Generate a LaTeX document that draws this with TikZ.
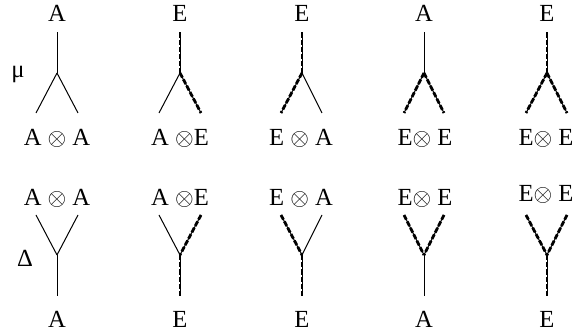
\documentclass[tikz,border=0pt]{standalone}
\usepackage{fontspec}
\setmainfont{Liberation Serif}

\begin{document}
\begin{tikzpicture}[x=0.5pt,y=-0.5pt,
    lbl/.style={font=\fontsize{12.3}{15}\selectfont, inner sep=0pt, anchor=base},
    aline/.style={line width=0.5pt},
    eline/.style={line width=1.4pt, dash pattern=on 2.6pt off 1pt,
                  preaction={draw, line width=0.5pt, solid}}]
\useasboundingbox (0,0) rectangle (582,335);
%Top row: the products mu, from the pair below up to the label on top
% each column has the label, a junction and the two branch ends
\node[lbl] (mu) at (18,78) {μ};
% column 1: A <- A x A
\node[lbl] (t1) at (57,22) {A};
\coordinate (j1) at (57,73);
\coordinate (l1) at (36,113);
\coordinate (r1) at (78,113);
\node[lbl] (p1) at (57,146) {A $\otimes$ A};
\draw[aline, shorten <=5pt] (t1.south) -- (j1);
\draw[aline] (j1) -- (l1);
\draw[aline] (j1) -- (r1);
% column 2: E <- A x E
\node[lbl] (t2) at (180,22) {E};
\coordinate (j2) at (180,73);
\coordinate (l2) at (159,113);
\coordinate (r2) at (201,113);
\node[lbl] (p2) at (180,146) {A $\otimes$E};
\draw[eline, shorten <=5pt] (t2.south) -- (j2);
\draw[aline] (j2) -- (l2);
\draw[eline] (j2) -- (r2);
% column 3: E <- E x A
\node[lbl] (t3) at (302,22) {E};
\coordinate (j3) at (302,73);
\coordinate (l3) at (281,113);
\coordinate (r3) at (322,113);
\node[lbl] (p3) at (301,146) {E $\otimes$ A};
\draw[eline, shorten <=5pt] (t3.south) -- (j3);
\draw[eline] (j3) -- (l3);
\draw[aline] (j3) -- (r3);
% column 4: A <- E x E
\node[lbl] (t4) at (424,22) {A};
\coordinate (j4) at (424,73);
\coordinate (l4) at (404,113);
\coordinate (r4) at (444,113);
\node[lbl] (p4) at (425,146) {E$\otimes$ E};
\draw[aline, shorten <=5pt] (t4.south) -- (j4);
\draw[eline] (j4) -- (l4);
\draw[eline] (j4) -- (r4);
% column 5: E <- E x E
\node[lbl] (t5) at (547,22) {E};
\coordinate (j5) at (547,73);
\coordinate (l5) at (526,113);
\coordinate (r5) at (567,113);
\node[lbl] (p5) at (546,146) {E$\otimes$ E};
\draw[eline, shorten <=5pt] (t5.south) -- (j5);
\draw[eline] (j5) -- (l5);
\draw[eline] (j5) -- (r5);
%Bottom row: the coproducts Delta, from the label below up to the pair
\node[lbl] (delta) at (25,267) {Δ};
% column 1: A -> A x A
\node[lbl] (q1) at (57,206) {A $\otimes$ A};
\coordinate (m1) at (36,215);
\coordinate (n1) at (78,215);
\coordinate (k1) at (57,255);
\node[lbl] (b1) at (57,328) {A};
\draw[aline] (m1) -- (k1);
\draw[aline] (n1) -- (k1);
\draw[aline, shorten >=7.5pt] (k1) -- (b1.north);
% column 2: E -> A x E
\node[lbl] (q2) at (180,206) {A $\otimes$E};
\coordinate (m2) at (159,215);
\coordinate (n2) at (201,215);
\coordinate (k2) at (180,255);
\node[lbl] (b2) at (180,328) {E};
\draw[aline] (m2) -- (k2);
\draw[eline] (n2) -- (k2);
\draw[eline, shorten >=7.5pt] (k2) -- (b2.north);
% column 3: E -> E x A
\node[lbl] (q3) at (301,206) {E $\otimes$ A};
\coordinate (m3) at (281,215);
\coordinate (n3) at (322,215);
\coordinate (k3) at (302,255);
\node[lbl] (b3) at (302,328) {E};
\draw[eline] (m3) -- (k3);
\draw[aline] (n3) -- (k3);
\draw[eline, shorten >=7.5pt] (k3) -- (b3.north);
% column 4: A -> E x E
\node[lbl] (q4) at (425,206) {E$\otimes$ E};
\coordinate (m4) at (404,215);
\coordinate (n4) at (444,215);
\coordinate (k4) at (424,255);
\node[lbl] (b4) at (424,328) {A};
\draw[eline] (m4) -- (k4);
\draw[eline] (n4) -- (k4);
\draw[aline, shorten >=7.5pt] (k4) -- (b4.north);
% column 5: E -> E x E
\node[lbl] (q5) at (546,202) {E$\otimes$ E};
\coordinate (m5) at (526,215);
\coordinate (n5) at (567,215);
\coordinate (k5) at (547,255);
\node[lbl] (b5) at (547,328) {E};
\draw[eline] (m5) -- (k5);
\draw[eline] (n5) -- (k5);
\draw[eline, shorten >=7.5pt] (k5) -- (b5.north);
\end{tikzpicture}
\end{document}
